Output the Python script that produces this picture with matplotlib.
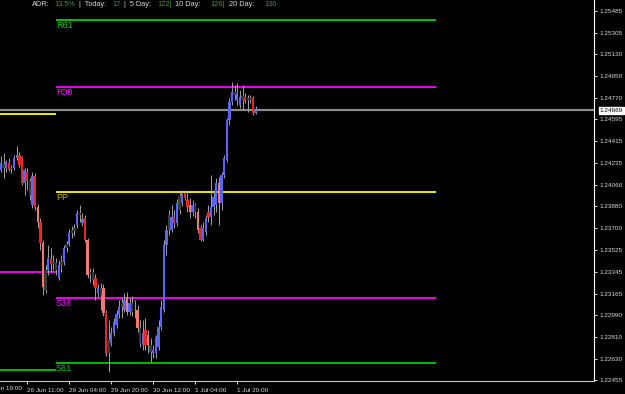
import matplotlib
matplotlib.use("Agg")
import matplotlib.pyplot as plt
import numpy as np

# Hourly candles
opens = [1.24179, 1.24229, 1.24196, 1.24237, 1.24188, 1.24196, 1.24278, 1.24302, 1.24286, 1.24073,
         1.24163, 1.24089, 1.23892, 1.24130, 1.23875, 1.23752, 1.23580, 1.23194, 1.23358, 1.23449,
         1.23408, 1.23416, 1.23293, 1.23399, 1.23424, 1.23539, 1.23572, 1.23662, 1.23679, 1.23728,
         1.23826, 1.23744, 1.23785, 1.23605, 1.23317, 1.23342, 1.23293, 1.23170, 1.23211, 1.23211,
         1.23005, 1.22677, 1.22759, 1.22841, 1.22907, 1.22989, 1.23055, 1.23030, 1.23137, 1.23014,
         1.23088, 1.23030, 1.23030, 1.22882, 1.22743, 1.22866, 1.22825, 1.22743, 1.22677, 1.22677,
         1.22726, 1.22890, 1.23030, 1.23564, 1.23687, 1.23687, 1.23793, 1.23744, 1.23851, 1.23908,
         1.23990, 1.23933, 1.23892, 1.23834, 1.23892, 1.23834, 1.23703, 1.23605, 1.23670, 1.23834,
         1.23793, 1.23875, 1.23892, 1.24073, 1.23908, 1.24138, 1.24261, 1.24590, 1.24738, 1.24820,
         1.24754, 1.24713, 1.24787, 1.24779, 1.24754, 1.24770, 1.24770, 1.24647]
highs = [1.24294, 1.24319, 1.24261, 1.24278, 1.24220, 1.24302, 1.24376, 1.24327, 1.24294, 1.24196,
         1.24196, 1.24114, 1.24163, 1.24155, 1.23900, 1.23785, 1.23605, 1.23399, 1.23564, 1.23539,
         1.23481, 1.23457, 1.23440, 1.23481, 1.23564, 1.23597, 1.23695, 1.23720, 1.23736, 1.23851,
         1.23892, 1.23826, 1.23810, 1.23621, 1.23375, 1.23375, 1.23325, 1.23244, 1.23252, 1.23244,
         1.23030, 1.22948, 1.22890, 1.22964, 1.23030, 1.23112, 1.23129, 1.23170, 1.23178, 1.23129,
         1.23145, 1.23112, 1.23071, 1.22948, 1.22948, 1.22964, 1.22866, 1.22800, 1.22743, 1.22825,
         1.22948, 1.23112, 1.23605, 1.23728, 1.23851, 1.23892, 1.23851, 1.23941, 1.23999, 1.24015,
         1.24015, 1.23990, 1.23949, 1.23933, 1.23908, 1.23867, 1.23728, 1.23752, 1.23810, 1.23892,
         1.24138, 1.24015, 1.24114, 1.24122, 1.24163, 1.24302, 1.24606, 1.24770, 1.24902, 1.24877,
         1.24894, 1.24836, 1.24877, 1.24811, 1.24795, 1.24795, 1.24787, 1.24705]
lows = [1.24163, 1.24114, 1.24163, 1.24171, 1.24155, 1.24179, 1.24261, 1.24204, 1.24056, 1.23974,
        1.24015, 1.23933, 1.23867, 1.23851, 1.23703, 1.23523, 1.23155, 1.23170, 1.23317, 1.23342,
        1.23358, 1.23317, 1.23277, 1.23342, 1.23399, 1.23506, 1.23555, 1.23621, 1.23638, 1.23703,
        1.23752, 1.23720, 1.23588, 1.23293, 1.23260, 1.23236, 1.23112, 1.23137, 1.23030, 1.22981,
        1.22652, 1.22521, 1.22734, 1.22817, 1.22882, 1.22964, 1.22964, 1.23014, 1.22989, 1.22989,
        1.22981, 1.22964, 1.22849, 1.22726, 1.22702, 1.22702, 1.22677, 1.22603, 1.22636, 1.22636,
        1.22702, 1.22866, 1.23014, 1.23481, 1.23646, 1.23670, 1.23703, 1.23720, 1.23818, 1.23884,
        1.23933, 1.23834, 1.23785, 1.23801, 1.23785, 1.23662, 1.23597, 1.23597, 1.23646, 1.23752,
        1.23728, 1.23810, 1.23834, 1.23728, 1.23851, 1.24114, 1.24245, 1.24549, 1.24713, 1.24754,
        1.24713, 1.24688, 1.24672, 1.24729, 1.24655, 1.24729, 1.24631, 1.24639]
closes = [1.24237, 1.24196, 1.24245, 1.24188, 1.24196, 1.24278, 1.24302, 1.24220, 1.24073, 1.24179,
          1.24089, 1.23974, 1.24130, 1.23875, 1.23752, 1.23580, 1.23219, 1.23358, 1.23457, 1.23408,
          1.23424, 1.23358, 1.23399, 1.23424, 1.23539, 1.23572, 1.23662, 1.23687, 1.23703, 1.23826,
          1.23810, 1.23777, 1.23605, 1.23317, 1.23342, 1.23277, 1.23211, 1.23211, 1.23155, 1.23005,
          1.22677, 1.22784, 1.22841, 1.22931, 1.22997, 1.23055, 1.23088, 1.23112, 1.23014, 1.23088,
          1.23014, 1.23038, 1.22882, 1.22759, 1.22841, 1.22743, 1.22743, 1.22685, 1.22702, 1.22808,
          1.22890, 1.23055, 1.23564, 1.23687, 1.23810, 1.23793, 1.23744, 1.23908, 1.23966, 1.23990,
          1.23949, 1.23875, 1.23834, 1.23892, 1.23834, 1.23687, 1.23605, 1.23703, 1.23785, 1.23793,
          1.23875, 1.23958, 1.24073, 1.23908, 1.24138, 1.24278, 1.24590, 1.24738, 1.24820, 1.24795,
          1.24811, 1.24779, 1.24754, 1.24746, 1.24770, 1.24754, 1.24647, 1.24672]
# body colour code per candle: b blue, r red, s salmon, g dark grey
body_codes = ("bgbrgbbrrbrgbrsrsgbrggbgbgbggbgbrsggrbgsrgbbbbgbsbgbsgbrsgbbbbbbgbrbgbrrsbgsrbbrbbbsbbbbbgbbgrggrb")

# pivot levels for the current day and the previous day
level_names = ["R61", "R38", "PP", "S38", "S61"]
level_prices = [1.25411, 1.24861, 1.23999, 1.23129, 1.22595]
level_colors = ["#00d000", "#ff00ff", "#ffff00", "#ff00ff", "#00c800"]
label_colors = ["#00d000", "#ff00ff", "#c8b400", "#ff00ff", "#00c800"]
prev_prices = [1.24639, 1.23342, 1.22540]
prev_colors = ["#ffff00", "#ff00ff", "#00c800"]
current_price = 1.24669

y_ticks = [1.25485, 1.25305, 1.25130, 1.24950, 1.24770, 1.24595, 1.24415, 1.24235, 1.24060,
           1.23880, 1.23700, 1.23525, 1.23345, 1.23165, 1.22990, 1.22810, 1.22630, 1.22455]
x_tick_pos = [10, 26, 42, 58, 74, 90]
x_tick_labels = ["26 Jun 11:00", "29 Jun 04:00", "29 Jun 20:00", "30 Jun 12:00",
                 "1 Jul 04:00", "1 Jul 20:00"]

palette = {"b": "#5a64f8", "r": "#e8281e", "s": "#f07a6e", "g": "#3a3a3a"}

plt.rcParams["font.family"] = "Liberation Sans"
fig = plt.figure(figsize=(6.25, 3.94), dpi=100, facecolor="black")
ax = fig.add_axes([0, 1 - 381 / 394, 594 / 625, 381 / 394])
ax.set_facecolor("black")

x = np.arange(len(opens))
o = np.array(opens)
c = np.array(closes)
h = c - o
h = np.where(np.abs(h) < 0.00004, 0.00004, h)
cols = [palette[k] for k in body_codes]

ax.vlines(x, lows, highs, color="#a0a0a0", lw=0.7, zorder=2)
ax.bar(x, h, bottom=o, width=0.9, color=cols, linewidth=0, zorder=3)

# pivot lines
for name, p, lc, tc in zip(level_names, level_prices, level_colors, label_colors):
    ax.hlines(p, 20.95, 165.7, color=lc, lw=1.3, zorder=1)
    ax.text(20.95, p - 0.00006, name, color=tc, fontsize=6.5, va="top", ha="left", zorder=4)
for p, lc in zip(prev_prices, prev_colors):
    ax.hlines(p, -1, 20.95, color=lc, lw=1.3, zorder=1)

ax.axhline(current_price, color="#8a8a8a", lw=1.6, zorder=1)

ax.set_xlim(-0.38, 225.9)
ax.set_ylim(1.22447, 1.25575)

ax.yaxis.tick_right()
ax.set_yticks(y_ticks)
ax.set_yticklabels([f"{v:.5f}" for v in y_ticks])
ax.set_xticks(x_tick_pos)
ax.set_xticklabels(x_tick_labels, ha="left")
ax.tick_params(axis="both", colors="white", labelcolor="#d8d8d8", labelsize=4.6,
               length=2.5, width=0.6, pad=1.5)
ax.tick_params(axis="x", pad=2.5)

for s in ["top", "left"]:
    ax.spines[s].set_visible(False)
ax.spines["right"].set_color("white")
ax.spines["bottom"].set_color("#c8c8c8")
ax.spines["right"].set_linewidth(0.8)
ax.spines["bottom"].set_linewidth(0.8)

# partial label cut by the left edge
ax.text(-6, -0.012, "25 Jun 19:00", transform=ax.get_xaxis_transform(), ha="left",
        va="top", color="#d8d8d8", fontsize=4.6, clip_on=False)

# current price box
ax.text(1.01, current_price, f"{current_price:.5f}", transform=ax.get_yaxis_transform(),
        ha="left", va="center", color="black", fontsize=4.6, clip_on=False,
        bbox=dict(boxstyle="square,pad=0.15", fc="white", ec="white"))

# header with ADR figures
header = [(32, "ADR:", "#d8d8d8"), (54, "13.5%", "#3a9a3a"), (79, "|  Today:", "#d8d8d8"),
          (112, "17", "#3a9a3a"), (124, "|  5 Day:", "#d8d8d8"), (157, "122|", "#3a9a3a"),
          (175, "10 Day:", "#d8d8d8"), (210, "126|", "#3a9a3a"), (229, "20 Day:", "#d8d8d8"),
          (264, "130", "#3a9a3a")]
for px, txt, col in header:
    fig.text(px / 625, 1 - 4 / 394, txt, color=col, fontsize=5.3, ha="left", va="center")

fig.savefig("out.png", dpi=100, facecolor="black")
